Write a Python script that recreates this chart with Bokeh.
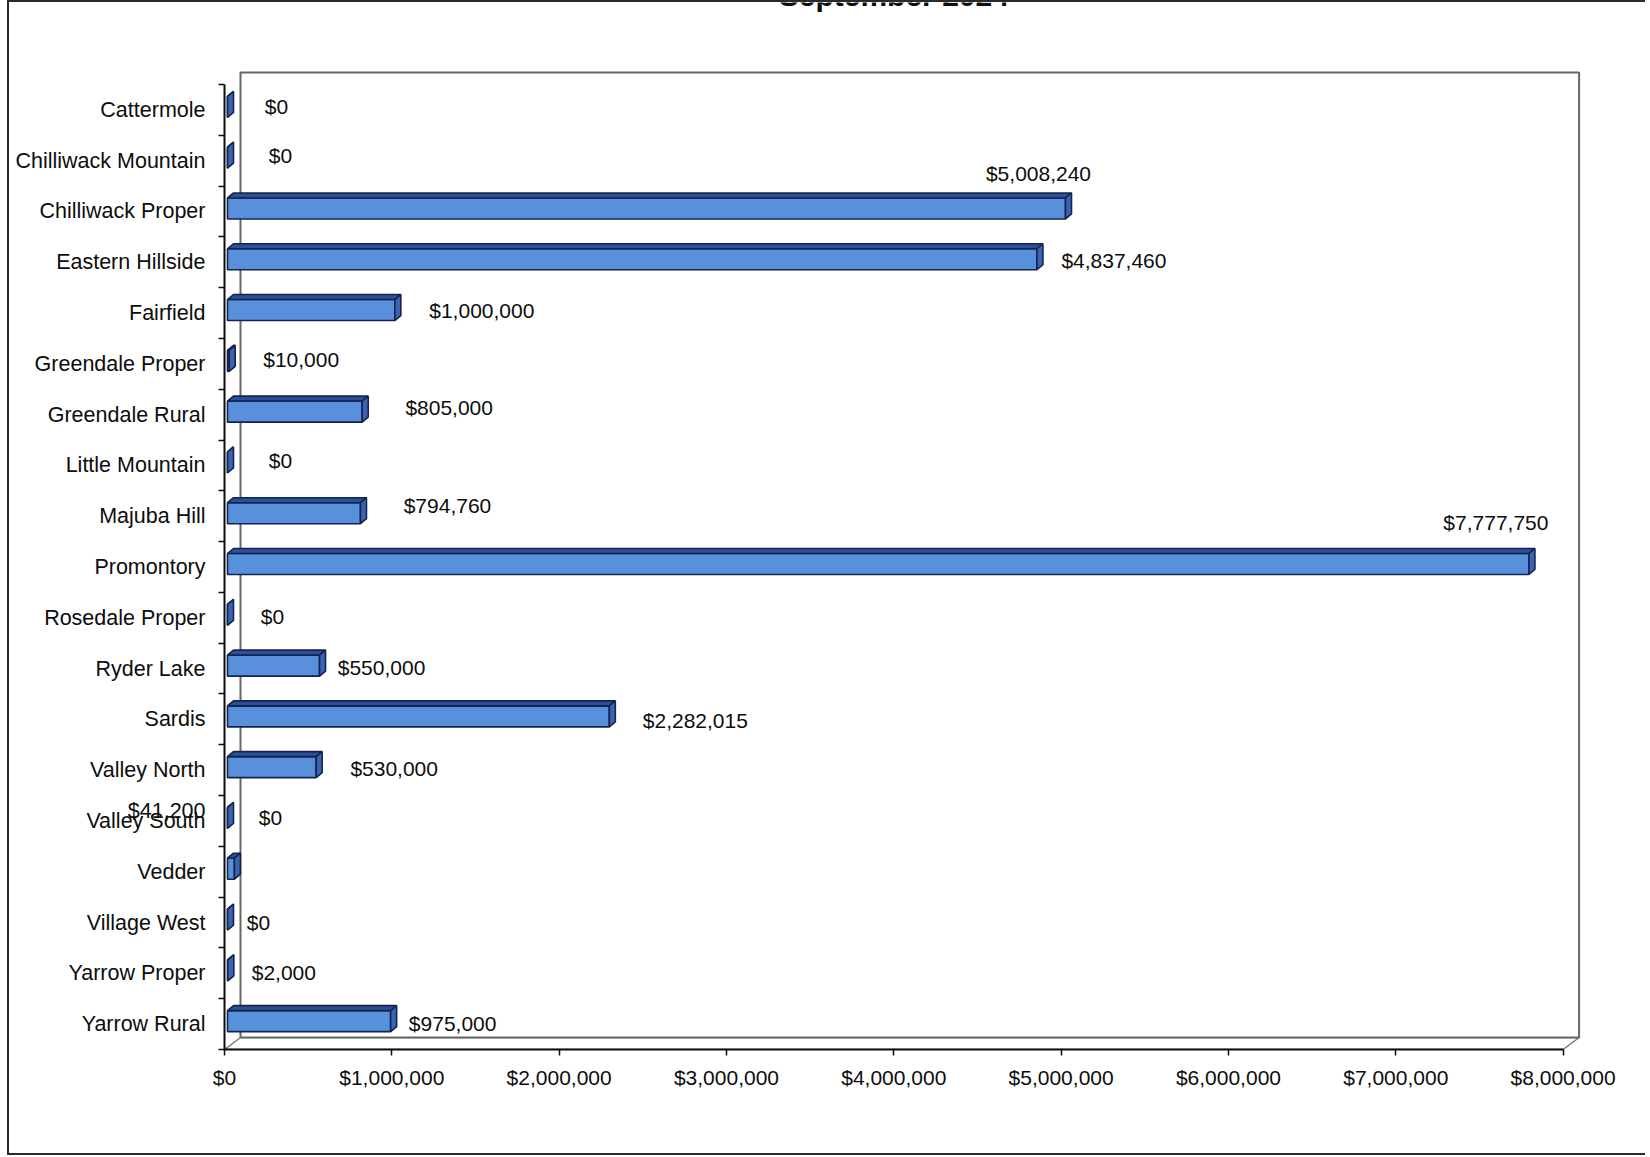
import numpy as np
from bokeh.plotting import figure
from bokeh.models import ColumnDataSource, FixedTicker, NumeralTickFormatter, LabelSet, Range1d
from bokeh.core.properties import value
from bokeh.embed import file_html
from bokeh.resources import INLINE

# ---------------- data ----------------
categories = ["Cattermole", "Chilliwack Mountain", "Chilliwack Proper", "Eastern Hillside",
              "Fairfield", "Greendale Proper", "Greendale Rural", "Little Mountain",
              "Majuba Hill", "Promontory", "Rosedale Proper", "Ryder Lake", "Sardis",
              "Valley North", "Valley South", "Vedder", "Village West", "Yarrow Proper",
              "Yarrow Rural"]
amounts = [0, 0, 5008240, 4837460, 1000000, 10000, 805000, 0, 794760, 7777750,
           0, 550000, 2282015, 530000, 0, 41200, 0, 2000, 975000]
x_ticks = [0, 1000000, 2000000, 3000000, 4000000, 5000000, 6000000, 7000000, 8000000]
title_text = "September 2024"

# data-label placement (screen px relative to bar end / band centre; dx right, dy up)
label_dx = [52, 56, -24, 80, 90, 75, 90, 56, 90, -30, 48, 65, 89, 81, 46, -75, 34, 59, 65]
label_dy = [3, 5, 38, 2, 3, 4, 7, 5, 11, 44, 1, 1, -1, 2, 3, 61, 0, 1, 1]

# ---------------- geometry / style ----------------
FONT = "Liberation Sans"
FRAME_W, FRAME_H = 1376, 1047
PX_PER_DOLLAR = 1338.6 / 8000000.0
BAND = 50.79                      # px per category band
U = 1.0 / PX_PER_DOLLAR           # dollars per px
V = 1.0 / BAND                    # y-units per px
WALL_DX, WALL_DY = 16, 12
BAR_SX, BAR_SY, BAR_H, BAR_DX, BAR_DY = 3, 3, 21, 6, 5
FRONT, TOP, SIDE, EDGE = "#5890dc", "#2b4f98", "#3a63b3", "#15244c"
INK = "#0d0d0d"

n = len(categories)
xmax = x_ticks[-1]
y_lo = -0.5
y_hi = y_lo + FRAME_H * V
p = figure(frame_width=FRAME_W, frame_height=FRAME_H,
           x_range=Range1d(0, FRAME_W * U), y_range=Range1d(y_lo, y_hi),
           output_backend="svg", toolbar_location=None,
           min_border_left=215, min_border_right=45, min_border_top=0, min_border_bottom=104)
p.styles = {"margin-left": "7px",
            "border-left": "2px solid #2a2a2a", "border-top": "2px solid #2a2a2a",
            "border-bottom": "2px solid #2a2a2a"}
p.outline_line_color = None
p.grid.visible = False
p.background_fill_color = "white"
p.border_fill_color = "white"

# title: cut off by the top edge, as in the scanned original (only its foot shows)
p.text(x=[xmax / 2], y=[y_hi - 1.5 * V], text=[title_text], y_offset=-9,
       text_font=value(FONT), text_font_size="30px", text_font_style="bold",
       text_align="center", text_baseline="alphabetic", text_color=INK)

# floor and back wall
y_top = n - 0.5
p.patch([0, xmax, xmax + WALL_DX * U, WALL_DX * U],
        [y_lo, y_lo, y_lo + WALL_DY * V, y_lo + WALL_DY * V],
        fill_color="white", line_color="#7a7a7a", line_width=1.5)
p.patch([WALL_DX * U, xmax + WALL_DX * U, xmax + WALL_DX * U, WALL_DX * U],
        [y_lo + WALL_DY * V, y_lo + WALL_DY * V, y_top + WALL_DY * V, y_top + WALL_DY * V],
        fill_color="white", line_color="#666666", line_width=2)

# 3-D bars
vals = np.array(amounts, dtype=float)
ypos = np.array([n - 1 - i for i in range(n)], dtype=float)
x0 = np.full(n, BAR_SX * U)
x1 = vals + BAR_SX * U
yb = ypos + BAR_SY * V - BAR_H / 2 * V
yt = ypos + BAR_SY * V + BAR_H / 2 * V
dx, dy = BAR_DX * U, BAR_DY * V

front_xs = [[a, b, b, a] for a, b in zip(x0, x1)]
front_ys = [[c, c, d, d] for c, d in zip(yb, yt)]
top_xs = [[a, b, b + dx, a + dx] for a, b in zip(x0, x1)]
top_ys = [[d, d, d + dy, d + dy] for d in yt]
side_xs = [[b, b + dx, b + dx, b] for b in x1]
side_ys = [[c, c + dy, d + dy, d] for c, d in zip(yb, yt)]

p.patches(front_xs, front_ys, fill_color=FRONT, line_color=EDGE, line_width=1.6)
p.patches(top_xs, top_ys, fill_color=TOP, line_color=EDGE, line_width=1.6)
p.patches(side_xs, side_ys, fill_color=SIDE, line_color=EDGE, line_width=1.6)

# data labels: those that fall left of the value axis are written in the axis margin
labels = ["${:,.0f}".format(v) for v in amounts]
in_frame = [vals[i] * PX_PER_DOLLAR + label_dx[i] > 0 for i in range(n)]
idx_in = [i for i in range(n) if in_frame[i]]
idx_out = [i for i in range(n) if not in_frame[i]]
lsrc = ColumnDataSource(dict(x=[vals[i] for i in idx_in], y=[ypos[i] for i in idx_in],
                             text=[labels[i] for i in idx_in],
                             dx=[label_dx[i] for i in idx_in], dy=[label_dy[i] for i in idx_in]))
p.add_layout(LabelSet(x="x", y="y", text="text", x_offset="dx", y_offset="dy", source=lsrc,
                      text_font=value(FONT), text_font_size="21px", text_color=INK,
                      text_align="center", text_baseline="middle"))

# x axis
xa = p.xaxis[0]
xa.ticker = FixedTicker(ticks=x_ticks)
xa.formatter = NumeralTickFormatter(format="$0,0")
xa.bounds = (0, xmax)
xa.axis_line_color = INK
xa.axis_line_width = 2
xa.major_tick_out = 6
xa.major_tick_in = 0
xa.minor_tick_line_color = None
xa.major_tick_line_color = INK
xa.major_tick_line_width = 1.5
xa.major_label_standoff = 10
xa.major_label_text_font = FONT
xa.major_label_text_font_size = "21px"
xa.major_label_text_color = INK

# y axis (categories)
ya = p.yaxis[0]
tick_pos = [float(v) for v in ypos] + [float(ypos[i] + label_dy[i] * V) for i in idx_out]
overrides = {float(ypos[i]): categories[i] for i in range(n)}
for i in idx_out:
    overrides[float(ypos[i] + label_dy[i] * V)] = labels[i]
ya.ticker = FixedTicker(ticks=tick_pos, minor_ticks=[k - 0.5 for k in range(n + 1)])
ya.major_label_overrides = overrides
ya.bounds = (y_lo, y_top)
ya.axis_line_color = INK
ya.axis_line_width = 2
ya.major_tick_in = 0
ya.major_tick_out = 0
ya.minor_tick_in = 0
ya.minor_tick_out = 6
ya.minor_tick_line_color = INK
ya.minor_tick_line_width = 1.5
ya.major_label_standoff = 13
ya.major_label_text_font = FONT
ya.major_label_text_font_size = "21.5px"
ya.major_label_text_color = INK

open("out.html", "w").write(file_html(p, INLINE))
